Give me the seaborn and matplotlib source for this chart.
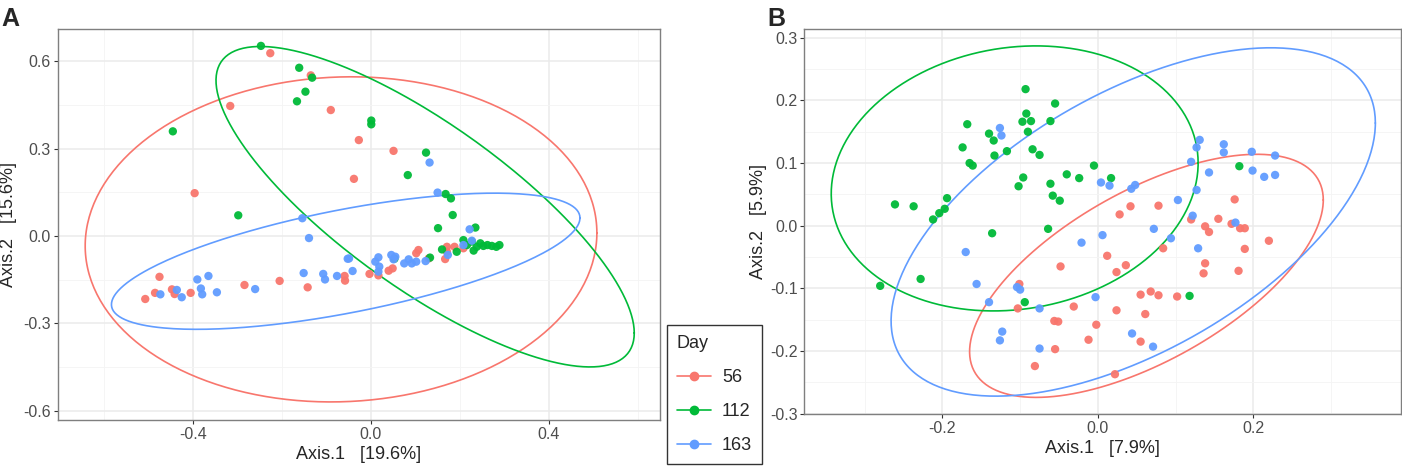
import numpy as np
import pandas as pd
import matplotlib
matplotlib.use("Agg")
import matplotlib.pyplot as plt
from matplotlib.lines import Line2D
from matplotlib.ticker import MultipleLocator
import seaborn as sns

# ---------------------------
# DATA
# ---------------------------

days = ["56", "112", "163"]
colors = ["#F8766D", "#00BA38", "#619CFF"]

# Panel A  (Axis.1 19.6%, Axis.2 15.6%)
a_red_x = [-0.226, -0.135, -0.316, -0.090, -0.396, -0.475, -0.507, -0.485, -0.447, -0.441,
           -0.405, -0.284, -0.205, -0.142, -0.059, -0.058, -0.027, 0.051, -0.038, -0.003,
           0.017, 0.040, 0.049, 0.107, 0.102, 0.130, 0.167, 0.171, 0.188, 0.208, 0.171]
a_red_y = [0.627, 0.551, 0.446, 0.432, 0.147, -0.140, -0.216, -0.195, -0.183, -0.199,
           -0.195, -0.168, -0.154, -0.176, -0.137, -0.153, 0.329, 0.292, 0.196, -0.130,
           -0.135, -0.119, -0.111, -0.048, -0.059, -0.077, -0.079, -0.037, -0.037, -0.042, -0.054]

a_green_x = [-0.247, -0.161, -0.132, -0.147, -0.166, -0.445, -0.298, 0.001, 0.001, 0.124,
             0.083, 0.168, 0.180, 0.184, 0.151, 0.235, 0.160, 0.193, 0.133, 0.208,
             0.227, 0.231, 0.246, 0.262, 0.272, 0.282, 0.289, 0.216, 0.238, 0.253, 0.053]
a_green_y = [0.652, 0.577, 0.543, 0.495, 0.462, 0.359, 0.071, 0.396, 0.383, 0.286,
             0.209, 0.144, 0.129, 0.072, 0.027, 0.029, -0.046, -0.054, -0.074, -0.014,
             -0.019, -0.050, -0.025, -0.031, -0.034, -0.037, -0.031, -0.031, -0.037, -0.034, -0.078]

a_blue_x = [-0.154, -0.139, -0.052, -0.151, -0.107, -0.103, -0.076, -0.260, -0.346, -0.365,
            -0.390, -0.382, -0.379, -0.425, -0.436, -0.473, 0.132, 0.150, 0.222, 0.227,
            0.208, 0.173, 0.123, 0.075, 0.085, 0.092, 0.102, 0.046, 0.055, 0.051,
            0.017, 0.010, 0.019, 0.017, -0.049, -0.041]
a_blue_y = [0.061, -0.007, -0.078, -0.127, -0.130, -0.149, -0.137, -0.182, -0.193, -0.137,
            -0.149, -0.180, -0.200, -0.210, -0.185, -0.200, 0.252, 0.149, 0.023, -0.016,
            -0.031, -0.065, -0.086, -0.094, -0.080, -0.094, -0.088, -0.065, -0.071, -0.080,
            -0.073, -0.088, -0.105, -0.122, -0.077, -0.120]

# Panel B  (Axis.1 7.9%, Axis.2 5.9%)
b_red_x = [-0.048, -0.101, -0.103, -0.031, -0.056, -0.051, -0.012, -0.055, -0.081, 0.176,
           0.078, 0.042, 0.028, 0.120, 0.155, 0.138, 0.143, 0.172, 0.183, 0.189,
           0.220, 0.189, 0.084, 0.012, 0.036, 0.024, 0.138, 0.136, 0.181, 0.055,
           0.068, 0.078, 0.102, 0.024, 0.061, -0.002, 0.055, 0.022]
b_red_y = [-0.065, -0.093, -0.132, -0.129, -0.152, -0.153, -0.182, -0.197, -0.224, 0.042,
           0.032, 0.031, 0.018, 0.010, 0.011, -0.001, -0.010, 0.003, -0.004, -0.004,
           -0.024, -0.037, -0.036, -0.048, -0.063, -0.074, -0.060, -0.076, -0.072, -0.110,
           -0.105, -0.111, -0.113, -0.135, -0.141, -0.158, -0.185, -0.237]

b_green_x = [-0.093, -0.055, -0.092, -0.097, -0.086, -0.061, -0.090, -0.168, -0.140, -0.134,
             -0.174, -0.133, -0.117, -0.084, -0.075, -0.165, -0.161, -0.096, -0.102, -0.061,
             -0.058, -0.049, -0.040, -0.024, -0.261, -0.237, -0.194, -0.197, -0.204, -0.212,
             -0.064, -0.136, -0.228, -0.280, -0.094, -0.005, 0.017, 0.182, 0.118]
b_green_y = [0.218, 0.195, 0.179, 0.166, 0.167, 0.167, 0.150, 0.162, 0.147, 0.136,
             0.125, 0.112, 0.119, 0.122, 0.113, 0.100, 0.096, 0.077, 0.063, 0.067,
             0.048, 0.040, 0.082, 0.076, 0.034, 0.031, 0.044, 0.027, 0.020, 0.010,
             -0.005, -0.012, -0.085, -0.096, -0.122, 0.096, 0.076, 0.095, -0.112]

b_blue_x = [-0.126, -0.124, -0.021, -0.170, -0.156, -0.104, -0.100, -0.140, -0.075, -0.123,
            -0.126, -0.075, 0.131, 0.127, 0.162, 0.162, 0.198, 0.228, 0.120, 0.199,
            0.214, 0.228, 0.143, 0.004, 0.015, 0.043, 0.048, 0.127, 0.103, 0.122,
            0.177, 0.072, 0.006, 0.094, 0.129, -0.003, 0.044, 0.071]
b_blue_y = [0.156, 0.144, -0.027, -0.042, -0.093, -0.098, -0.102, -0.122, -0.132, -0.169,
            -0.183, -0.196, 0.137, 0.125, 0.130, 0.117, 0.118, 0.112, 0.102, 0.088,
            0.078, 0.081, 0.085, 0.069, 0.064, 0.059, 0.065, 0.057, 0.041, 0.016,
            0.005, -0.005, -0.015, -0.020, -0.036, -0.114, -0.172, -0.193]

# ellipse parameters per day: centre x, centre y, half range x, half range y, correlation
a_ell_cx = [-0.067, 0.122, -0.0565]
a_ell_cy = [-0.0115, 0.1005, -0.0865]
a_ell_rx = [0.575, 0.470, 0.5265]
a_ell_ry = [0.5575, 0.5495, 0.2335]
a_ell_rho = [0.04, -0.788, 0.636]

b_ell_cx = [0.0625, -0.107, 0.0455]
b_ell_cy = [-0.080, 0.0755, 0.006]
b_ell_rx = [0.2275, 0.236, 0.3115]
b_ell_ry = [0.194, 0.2115, 0.278]
b_ell_rho = [0.624, 0.116, 0.568]


def make_df(red_x, red_y, green_x, green_y, blue_x, blue_y):
    parts = []
    for d, xs, ys in zip(days, [red_x, green_x, blue_x], [red_y, green_y, blue_y]):
        parts.append(pd.DataFrame({"Axis.1": xs, "Axis.2": ys, "Day": d}))
    return pd.concat(parts, ignore_index=True)


df_a = make_df(a_red_x, a_red_y, a_green_x, a_green_y, a_blue_x, a_blue_y)
df_b = make_df(b_red_x, b_red_y, b_green_x, b_green_y, b_blue_x, b_blue_y)

# ---------------------------
# STYLE
# ---------------------------

sns.set_style("ticks")
plt.rcParams['font.family'] = ['Liberation Sans', 'DejaVu Sans']
plt.rcParams['axes.unicode_minus'] = False

fig = plt.figure(figsize=(14.02, 4.66), dpi=100)
ax_a = fig.add_axes([0.0414, 0.0987, 0.4294, 0.8391])
ax_b = fig.add_axes([0.5737, 0.1116, 0.4256, 0.8262])

t = np.linspace(0, 2 * np.pi, 300)


def draw_panel(ax, df, cx, cy, rx, ry, rho):
    sns.scatterplot(data=df, x="Axis.1", y="Axis.2", hue="Day", hue_order=days,
                    palette=colors, s=36, edgecolor="none", alpha=0.95,
                    legend=False, ax=ax, zorder=3)
    for i in range(3):
        ex = cx[i] + rx[i] * np.cos(t)
        ey = cy[i] + ry[i] * (rho[i] * np.cos(t) + np.sqrt(1 - rho[i] ** 2) * np.sin(t))
        ax.plot(ex, ey, color=colors[i], lw=1.2, zorder=2)
    ax.grid(which="major", color="#EBEBEB", lw=1.1, zorder=0)
    ax.grid(which="minor", color="#F4F4F4", lw=0.6, zorder=0)
    ax.set_axisbelow(True)
    for sp in ax.spines.values():
        sp.set_visible(True)
        sp.set_color("#7F7F7F")
        sp.set_linewidth(1.0)
    ax.tick_params(which="major", length=3, width=0.8, color="#333333",
                   labelsize=11.5, labelcolor="#4D4D4D", pad=2)
    ax.tick_params(which="minor", length=0)


draw_panel(ax_a, df_a, a_ell_cx, a_ell_cy, a_ell_rx, a_ell_ry, a_ell_rho)
ax_a.set_xlim(-0.703, 0.650)
ax_a.set_ylim(-0.631, 0.710)
ax_a.xaxis.set_major_locator(MultipleLocator(0.4))
ax_a.xaxis.set_minor_locator(MultipleLocator(0.2))
ax_a.yaxis.set_major_locator(MultipleLocator(0.3))
ax_a.yaxis.set_minor_locator(MultipleLocator(0.15))
ax_a.set_xlabel("Axis.1   [19.6%]", fontsize=13, labelpad=3)
ax_a.set_ylabel("Axis.2   [15.6%]", fontsize=13)
ax_a.yaxis.set_label_coords(-0.069, 0.5)

draw_panel(ax_b, df_b, b_ell_cx, b_ell_cy, b_ell_rx, b_ell_ry, b_ell_rho)
ax_b.set_xlim(-0.3776, 0.390)
ax_b.set_ylim(-0.3005, 0.314)
ax_b.xaxis.set_major_locator(MultipleLocator(0.2))
ax_b.xaxis.set_minor_locator(MultipleLocator(0.1))
ax_b.yaxis.set_major_locator(MultipleLocator(0.1))
ax_b.yaxis.set_minor_locator(MultipleLocator(0.05))
ax_b.set_xlabel("Axis.1   [7.9%]", fontsize=13, labelpad=3)
ax_b.set_ylabel("Axis.2   [5.9%]", fontsize=13)
ax_b.yaxis.set_label_coords(-0.062, 0.5)

# panel letters
fig.text(0.001, 0.985, "A", fontsize=18, fontweight="bold", va="top", ha="left")
fig.text(0.547, 0.985, "B", fontsize=18, fontweight="bold", va="top", ha="left")

# legend
handles = [Line2D([0], [0], color=c, marker="o", markersize=6, lw=1.2) for c in colors]
leg = fig.legend(handles, days, title="Day", loc="upper left",
                 bbox_to_anchor=(667 / 1402, 1 - 325 / 466),
                 fontsize=13, title_fontsize=13, frameon=True, fancybox=False,
                 handlelength=1.9, handletextpad=0.6, labelspacing=0.95,
                 borderpad=0.55, borderaxespad=0)
leg.get_frame().set_edgecolor("black")
leg.get_frame().set_linewidth(1.0)
leg._legend_box.align = "left"

fig.savefig("out.png", dpi=100)
